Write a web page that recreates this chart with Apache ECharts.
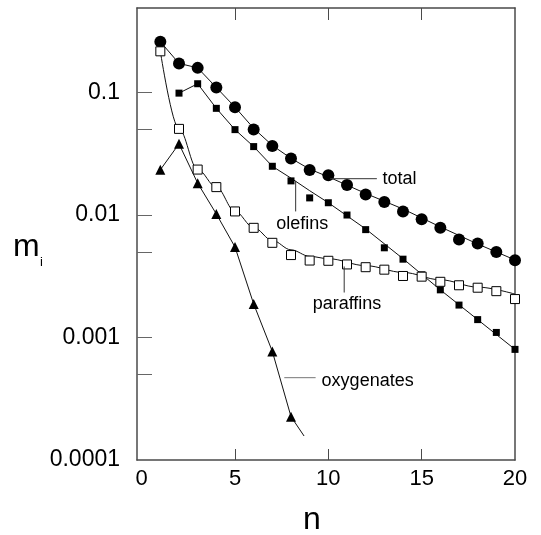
<!DOCTYPE html>
<html>
<head>
<meta charset="utf-8">
<script src="https://cdn.jsdelivr.net/npm/echarts@6/dist/echarts.min.js"></script>
<style>
html,body{margin:0;padding:0;background:#fff;}
#chart{width:541px;height:535px;}
</style>
</head>
<body>
<div id="chart"></div>
<script>
// ---- data ----
const nTotal = [1,2,3,4,5,6,7,8,9,10,11,12,13,14,15,16,17,18,19,20];
const total = [0.26,0.173,0.159,0.11,0.076,0.050,0.0366,0.029,0.0233,0.0211,0.0176,0.0147,0.0128,0.0107,0.00925,0.00786,0.00632,0.00585,0.00498,0.00428];

const nOlefins = [2,3,4,5,6,7,8,9,10,11,12,13,14,15,16,17,18,19,20];
const olefins = [0.0989,0.118,0.0743,0.0498,0.0362,0.0250,0.0190,0.0138,0.0126,0.0100,0.0076,0.0054,0.00436,0.00325,0.00245,0.00184,0.00140,0.00110,0.00080];

const nParaffins = [1,2,3,4,5,6,7,8,9,10,11,12,13,14,15,16,17,18,19,20];
const paraffins = [0.217,0.0505,0.0235,0.0169,0.0107,0.00786,0.00593,0.00471,0.00425,0.00423,0.00395,0.00375,0.00358,0.00318,0.00314,0.00285,0.00267,0.00255,0.00239,0.00206];

const nOxygenates = [1,2,3,4,5,6,7,8];
const oxygenates = [0.0234,0.0381,0.0182,0.0102,0.00548,0.00188,0.00077,0.000226];

// fitted curves drawn through the points
const nTotalFit = [1,2,3,4,5,6,7,8,9,10,12,14,16,18,20];
const totalFit = [0.26,0.173,0.159,0.11,0.076,0.051,0.037,0.029,0.0237,0.0205,0.0150,0.0112,0.0080,0.0058,0.0043];
const nOlefinsFit = [2,3,4,5,6,7,8,9,10,12,14,16,18,20];
const olefinsFit = [0.0989,0.118,0.0743,0.0498,0.0362,0.025,0.0200,0.0158,0.0126,0.0077,0.0044,0.00245,0.0014,0.0008];
const nParaffinsFit = [1,2,3,4,5,6,7,8,9,10,12,14,16,18,20];
const paraffinsFit = [0.217,0.0505,0.0235,0.0169,0.0107,0.0079,0.0062,0.0052,0.0046,0.0044,0.00386,0.0034,0.00296,0.00258,0.00226];
const nOxygenatesFit = [1,2,3,4,5,6,7,8,8.7];
const oxygenatesFit = [0.0234,0.0381,0.0182,0.0102,0.00548,0.00188,0.00077,0.000226,0.000157];

// axis ticks / labels
const xTickValues = [5,10,15];
const xLabelValues = [0,5,10,15,20];
const yTickValues = [0.0005,0.001,0.005,0.01,0.05,0.1];
const yLabelValues = [0.0001,0.001,0.01,0.1];
const yLabelTexts = ['0.0001','0.001','0.01','0.1'];

// annotations: [label, leader line start, leader line end, text anchor, align]
const annoLabels = ['total','olefins','paraffins','oxygenates'];
const annoLineFrom = [[10.1,0.0198],[8.25,0.0190],[10.85,0.0038],[7.64,0.00047]];
const annoLineTo = [[12.6,0.0198],[8.25,0.0107],[10.85,0.00233],[9.32,0.00047]];
const annoTextAt = [[12.9,0.0198],[8.6,0.0085],[11.0,0.00187],[9.64,0.000440]];
const annoAlign = ['left','center','center','left'];

const zip = (xs, ys) => xs.map((x, i) => [x, ys[i]]);

const FONT = '"Liberation Sans", Arial, Helvetica, sans-serif';
const AXIS_COLOR = '#4a4a4a';

const chart = echarts.init(document.getElementById('chart'), null, {renderer: 'canvas'});

const xMin = -0.25, xMax = 20;
const yMin = 0.0001, yMax = 0.49;

const option = {
  animation: false,
  backgroundColor: '#fff',
  grid: {left: 137, top: 8, right: 26, bottom: 75, containLabel: false},
  xAxis: [
    {
      type: 'value', position: 'bottom', min: xMin, max: xMax,
      axisLine: {show: true, onZero: false, lineStyle: {color: AXIS_COLOR, width: 1.5}},
      axisTick: {show: true, inside: true, length: 11, customValues: xTickValues, lineStyle: {color: AXIS_COLOR, width: 1}},
      axisLabel: {show: true, customValues: xLabelValues, margin: 8, fontSize: 22, fontFamily: FONT, color: '#000'},
      splitLine: {show: false}
    },
    {
      type: 'value', position: 'top', min: xMin, max: xMax,
      axisLine: {show: true, onZero: false, lineStyle: {color: AXIS_COLOR, width: 1.5}},
      axisTick: {show: true, inside: true, length: 12, customValues: xTickValues, lineStyle: {color: AXIS_COLOR, width: 1}},
      axisLabel: {show: false},
      splitLine: {show: false}
    }
  ],
  yAxis: [
    {
      type: 'log', logBase: 10, position: 'left', min: yMin, max: yMax,
      axisLine: {show: true, onZero: false, lineStyle: {color: AXIS_COLOR, width: 1.5}},
      axisTick: {show: true, inside: true, length: 15, customValues: yTickValues, lineStyle: {color: '#666', width: 1}},
      axisLabel: {
        show: true, customValues: yLabelValues, margin: 17, fontSize: 23, fontFamily: FONT, color: '#000',
        formatter: function (v) {
          const k = Math.round(Math.log10(v)) + 4;
          return yLabelTexts[k] !== undefined ? yLabelTexts[k] : '';
        }
      },
      splitLine: {show: false}
    },
    {
      type: 'log', logBase: 10, position: 'right', min: yMin, max: yMax,
      axisLine: {show: true, onZero: false, lineStyle: {color: AXIS_COLOR, width: 1.5}},
      axisTick: {show: false},
      axisLabel: {show: false},
      splitLine: {show: false}
    }
  ],
  series: [
    {type: 'line', data: zip(nTotalFit, totalFit), showSymbol: false, smooth: false, lineStyle: {color: '#111', width: 1}, z: 1},
    {type: 'line', data: zip(nOlefinsFit, olefinsFit), showSymbol: false, smooth: false, lineStyle: {color: '#111', width: 1}, z: 1},
    {type: 'line', data: zip(nParaffinsFit, paraffinsFit), showSymbol: false, smooth: 0.35, smoothMonotone: 'x', lineStyle: {color: '#111', width: 1}, z: 1},
    {type: 'line', data: zip(nOxygenatesFit, oxygenatesFit), showSymbol: false, smooth: false, lineStyle: {color: '#111', width: 1}, z: 1},
    {type: 'scatter', data: zip(nTotal, total), symbol: 'circle', symbolSize: 12, itemStyle: {color: '#000', opacity: 1}, z: 3},
    {type: 'scatter', data: zip(nOlefins, olefins), symbol: 'rect', symbolSize: 7, itemStyle: {color: '#000', opacity: 1}, z: 3},
    {type: 'scatter', data: zip(nParaffins, paraffins), symbol: 'rect', symbolSize: 9, itemStyle: {color: '#fff', borderColor: '#000', borderWidth: 1, opacity: 1}, z: 3},
    {type: 'scatter', data: zip(nOxygenates, oxygenates), symbol: 'triangle', symbolSize: 10, itemStyle: {color: '#000', opacity: 1}, z: 3}
  ]
};

chart.setOption(option);

// annotations positioned through the chart's own scales
const toPx = p => chart.convertToPixel({xAxisIndex: 0, yAxisIndex: 0}, p);
const graphics = [];
annoLabels.forEach((label, i) => {
  const a = toPx(annoLineFrom[i]);
  const b = toPx(annoLineTo[i]);
  const t = toPx(annoTextAt[i]);
  graphics.push({
    type: 'line', z: 10,
    shape: {x1: a[0], y1: a[1], x2: b[0], y2: b[1]},
    style: {stroke: label === 'oxygenates' ? '#777' : '#333', lineWidth: 1}
  });
  graphics.push({
    type: 'text', z: 10, x: t[0], y: t[1],
    style: {text: label, fontSize: 18, fontFamily: FONT, fill: '#000', align: annoAlign[i], verticalAlign: 'middle'}
  });
});
// axis titles
graphics.push({type: 'text', x: 312, y: 520, style: {text: 'n', fontSize: 32, fontFamily: FONT, fill: '#000', align: 'center', verticalAlign: 'middle'}});
graphics.push({type: 'text', x: 13, y: 247, style: {text: 'm', fontSize: 32, fontFamily: FONT, fill: '#000', align: 'left', verticalAlign: 'middle'}});
graphics.push({type: 'text', x: 40, y: 262, style: {text: 'i', fontSize: 13, fontFamily: FONT, fill: '#000', align: 'left', verticalAlign: 'middle'}});

chart.setOption({graphic: graphics});
</script>
</body>
</html>
